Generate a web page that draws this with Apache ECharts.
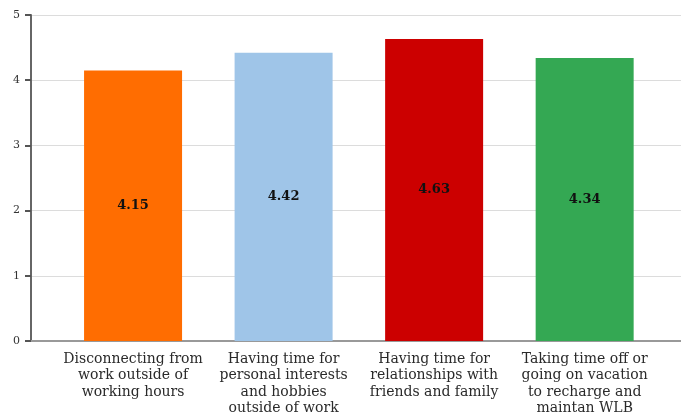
<!DOCTYPE html>
<html>
<head>
<meta charset="utf-8">
<script src="https://cdn.jsdelivr.net/npm/echarts@6/dist/echarts.min.js"></script>
<style>
  html, body { margin: 0; padding: 0; background: #fff; }
  #chart { width: 681px; height: 417px; }
</style>
</head>
<body>
<div id="chart"></div>
<script>
// Catégories (déjà coupées comme sur l'image)
const categories = [
    'Disconnecting from\nwork outside of\nworking hours',
    'Having time for\npersonal interests\nand hobbies\noutside of work',
    'Having time for\nrelationships with\nfriends and family',
    'Taking time off or\ngoing on vacation\nto recharge and\nmaintan WLB'
];
const scores = [4.15, 4.42, 4.63, 4.34];
const barColors = ['#ff6d01', '#9fc5e8', '#cc0000', '#34a853'];
const yTicks = [0, 1, 2, 3, 4, 5];

const chart = echarts.init(document.getElementById('chart'));

const option = {
    backgroundColor: '#fff',
    animation: false,
    grid: { left: 31, right: 0, top: 15, bottom: 73.5 },
    xAxis: {
        type: 'value',
        min: -0.678,
        max: 3.64,
        splitLine: { show: false },
        axisTick: { show: false },
        axisLine: { show: true, onZero: false, lineStyle: { color: '#999', width: 2 } },
        axisLabel: {
            customValues: [0, 1, 2, 3],
            formatter: v => categories[Math.round(v)] || '',
            fontFamily: 'DejaVu Serif',
            fontSize: 14,
            lineHeight: 16.5,
            color: '#2a2a2a',
            margin: 10,
            align: 'center'
        }
    },
    yAxis: {
        type: 'value',
        min: yTicks[0],
        max: yTicks[yTicks.length - 1],
        interval: 1,
        axisLine: { show: true, onZero: false, lineStyle: { color: '#666', width: 2 } },
        axisTick: { show: true, length: 6, lineStyle: { color: '#555', width: 2 } },
        axisLabel: {
            fontFamily: 'DejaVu Serif',
            fontSize: 11,
            color: '#333',
            margin: 11
        },
        splitLine: { show: true, lineStyle: { color: '#dcdcdc', width: 1 } }
    },
    series: [{
        type: 'bar',
        barWidth: 98,
        data: scores.map((s, i) => ({
            value: [i, s],
            itemStyle: { color: barColors[i] }
        })),
        label: {
            show: true,
            position: 'inside',
            formatter: p => p.value[1].toFixed(2),
            fontFamily: 'DejaVu Serif',
            fontWeight: 'bold',
            fontSize: 13,
            color: '#111'
        }
    }]
};

chart.setOption(option);
</script>
</body>
</html>
